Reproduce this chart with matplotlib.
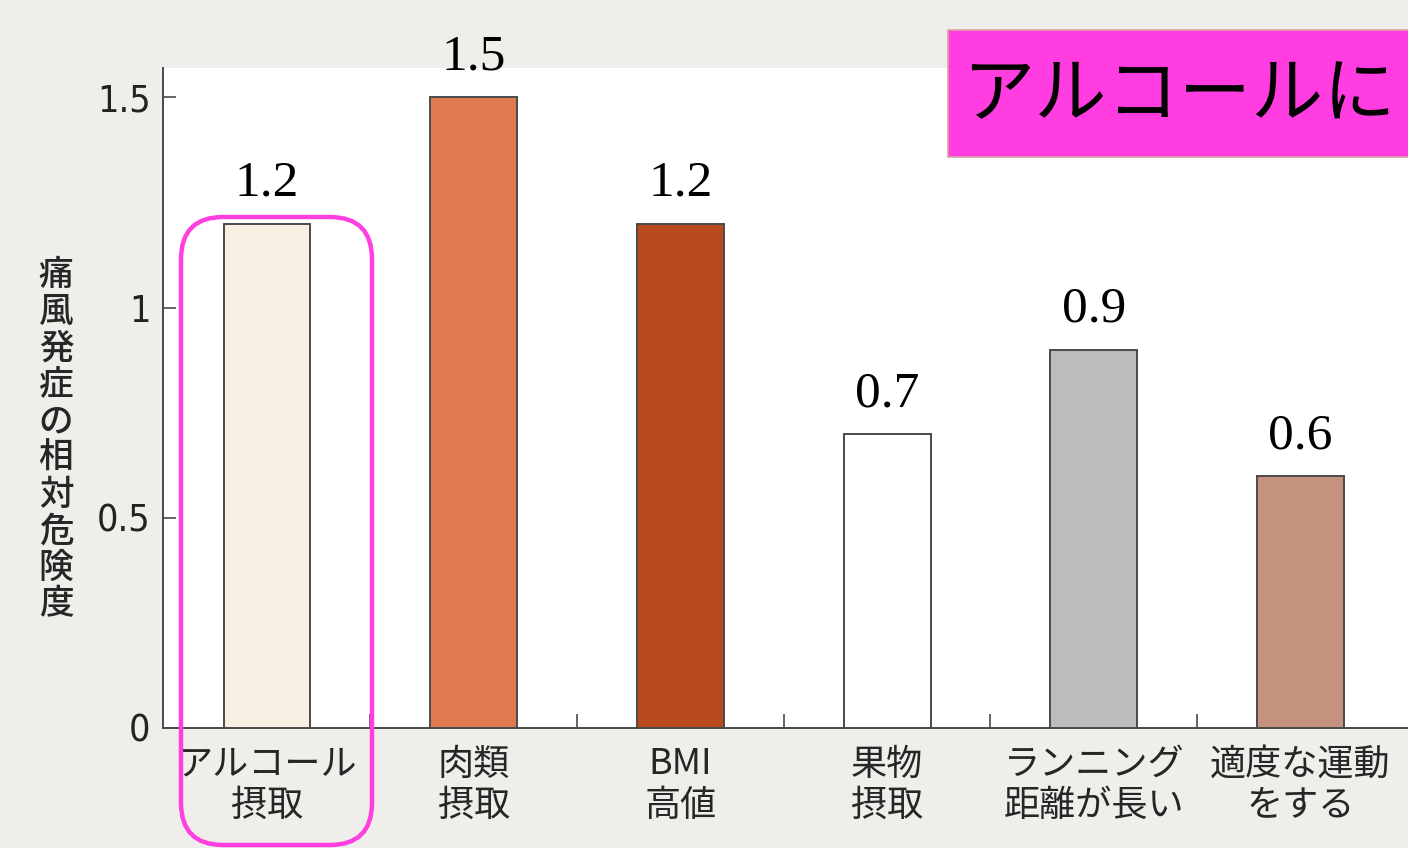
"""Relative risk of gout onset by lifestyle factor, as a bar chart."""
import matplotlib.pyplot as plt
from matplotlib.patches import FancyBboxPatch, Rectangle

JP_FONT = ['Noto Sans CJK JP', 'DejaVu Sans']
NUM_FONT = ['Liberation Sans Narrow', 'DejaVu Sans']

categories = [
    "アルコール\n摂取", "肉類\n摂取", "BMI\n高値",
    "果物\n摂取", "ランニング\n距離が長い", "適度な運動\nをする",
]
relative_risk = [1.2, 1.5, 1.2, 0.7, 0.9, 0.6]
bar_colors = ['#f8f0e2', '#e07a50', '#b94a1f', '#ffffff', '#bcbcbc', '#c4927e']
y_ticks = [0, 0.5, 1, 1.5]
y_tick_labels = ["0", "0.5", "1", "1.5"]
y_label = "痛風発症の相対危険度"
title = "アルコールに"

W, H = 1408, 848
fig = plt.figure(figsize=(W / 100, H / 100), dpi=100)
fig.patch.set_facecolor('#efeeeb')

ax = fig.add_axes([163 / W, 1 - 728 / H, 1 - 163 / W, (728 - 68) / H])
ax.set_facecolor('white')

x = range(len(categories))
bars = ax.bar(x, relative_risk, width=0.42, color=bar_colors,
              edgecolor='#4a4a4a', linewidth=1.4, zorder=3)
ax.bar_label(bars, labels=[f"{v:.1f}" for v in relative_risk], padding=12,
             fontsize=37, family='Liberation Serif', color='black')

ax.set_xlim(-0.503, 5.52)
ax.set_ylim(0, 1.57)

# axis styling: left spine and baseline only, ticks pointing inwards
for side in ('top', 'right'):
    ax.spines[side].set_visible(False)
for side in ('left', 'bottom'):
    ax.spines[side].set_color('#4a4a4a')
    ax.spines[side].set_linewidth(1.4)

ax.set_yticks(y_ticks)
ax.set_yticklabels(y_tick_labels, family=NUM_FONT, fontsize=27,
                   fontstretch='condensed', color='#222222')
ax.tick_params(axis='y', direction='in', length=9, width=1.2,
               color='#4a4a4a', pad=9)

ax.set_xticks([i + 0.5 for i in range(len(categories) - 1)])
ax.set_xticklabels([])
ax.tick_params(axis='x', direction='in', length=10, width=1.2, color='#4a4a4a')
for i, name in enumerate(categories):
    ax.text(i, -0.028, name, ha='center', va='top', fontsize=26,
            family=JP_FONT, color='#262626', linespacing=1.18,
            transform=ax.get_xaxis_transform(), clip_on=False)

# vertical, stacked axis title
fig.text(56 / W, 1 - 440 / H, "\n".join(y_label), ha='center', va='center',
         fontsize=25, family=JP_FONT, fontweight='medium', color='#262626',
         linespacing=1.02)

# highlight frame around the alcohol bar
fig.patches.append(FancyBboxPatch(
    (181 / W, 1 - 845 / H), (372 - 181) / W, (845 - 217) / H,
    boxstyle="round,pad=0,rounding_size=0.03", transform=fig.transFigure,
    facecolor='none', edgecolor='#ff3fe0', linewidth=3.2, zorder=10,
    mutation_aspect=W / H))

# headline banner in the upper right
fig.patches.append(Rectangle(
    (948 / W, 1 - 157 / H), (W - 948 + 20) / W, (157 - 30) / H,
    transform=fig.transFigure, facecolor='#ff3de0', edgecolor='#d9a3a0',
    linewidth=1.2, zorder=10))
fig.text(962 / W, 1 - 96 / H, title, ha='left', va='center', fontsize=52,
         family=JP_FONT, color='black', zorder=11)

fig.savefig('out.png', dpi=100, facecolor=fig.get_facecolor())
